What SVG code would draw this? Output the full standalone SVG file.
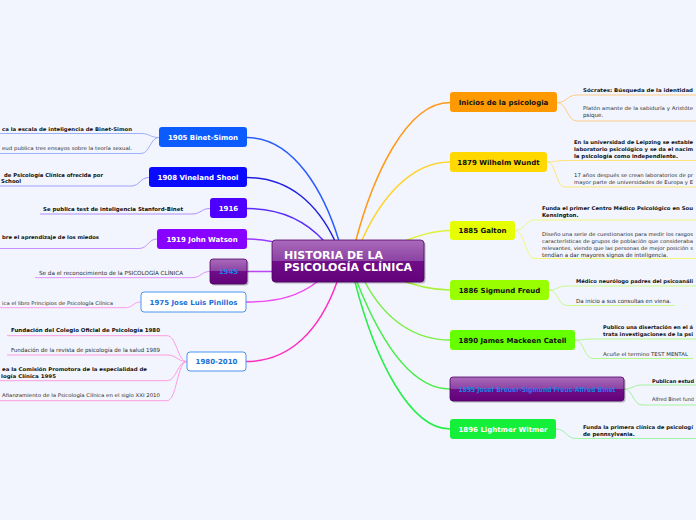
<svg xmlns="http://www.w3.org/2000/svg" width="696" height="520" viewBox="0 0 696 520">
<defs>
<linearGradient id="gloss" x1="0" y1="0" x2="0" y2="1">
<stop offset="0" stop-color="#a96bba"/>
<stop offset="0.5" stop-color="#8c42a3"/>
<stop offset="0.5" stop-color="#700e88"/>
<stop offset="1" stop-color="#62027a"/>
</linearGradient>
</defs>
<style>
.bg{fill:#f2f5fd}
.nt{font-family:"DejaVu Sans",Verdana,sans-serif;font-size:7px;font-weight:bold;text-anchor:middle}
.lt{font-family:"DejaVu Sans",Verdana,sans-serif;font-size:5.6px;fill:#2a2a2a}
.b{font-weight:bold;fill:#111;font-size:5.4px}
.s{font-size:5px}
.e{text-anchor:end}
.c{fill:none;stroke-width:1.5;stroke-linecap:round}
.u{fill:none;stroke-width:1}
.glossy{fill:url(#gloss);stroke:#520068;stroke-width:0.8}
.sh{fill:#000;opacity:0.25}
</style>
<rect class="bg" x="0" y="0" width="696" height="520"/>

<g id="connectors">
<path class="c" stroke="#2a5cff" d="M339,241 C325,195 295,137.5 247,137.5"/>
<path class="c" stroke="#1f1fe0" d="M335,241 C318,205 290,177.5 247,177.5"/>
<path class="c" stroke="#5a2cff" d="M324,241 C305,220 280,208.5 247,208.5"/>
<path class="c" stroke="#9a38ff" d="M290,246 C270,240 260,239 247,239"/>
<path class="c" stroke="#b845f0" d="M280,271.5 L247,271.5"/>
<path class="c" stroke="#f048f0" d="M317,282 C300,295 280,302 246,302"/>
<path class="c" stroke="#ff2ec0" d="M337,282 C320,330 290,361.5 246,361.5"/>
<path class="c" stroke="#ff9a1a" d="M356,240 C372,180 405,102.5 450,102.5"/>
<path class="c" stroke="#ffd22a" d="M362,240 C380,200 410,162 450,162"/>
<path class="c" stroke="#def23a" d="M395,245 C420,234 435,230.5 450,230.5"/>
<path class="c" stroke="#aaf23a" d="M395,278 C420,288 435,290 450,290"/>
<path class="c" stroke="#78ee44" d="M365,282 C385,320 415,340 450,340"/>
<path class="c" stroke="#48ee48" d="M357,282 C380,340 410,389 450,389"/>
<path class="c" stroke="#26ee48" d="M355,282 C375,360 410,429 450,429"/>

<path class="u" stroke="#ffcc88" d="M557,102.5 C567,102.5 567,95 577,95 H696"/>
<path class="u" stroke="#ffcc88" d="M557,102.5 C567,102.5 567,121 577,121 H696"/>
<path class="u" stroke="#ffe47a" d="M547,162 C556,162 556,160.5 565,160.5 H696"/>
<path class="u" stroke="#ffe47a" d="M547,162 C556,162 556,187 565,187 H696"/>
<path class="u" stroke="#eef880" d="M515,230.5 C525,230.5 525,220 535,220 H696"/>
<path class="u" stroke="#eef880" d="M515,230.5 C525,230.5 525,258.5 535,258.5 H696"/>
<path class="u" stroke="#ccf890" d="M549,290 C558,290 558,286 567,286 H696"/>
<path class="u" stroke="#ccf890" d="M549,290 C558,290 558,305.5 567,305.5 H675"/>
<path class="u" stroke="#b4f890" d="M575,340 C584,340 584,339 593,339 H696"/>
<path class="u" stroke="#b4f890" d="M575,340 C584,340 584,358.5 593,358.5 H693"/>
<path class="u" stroke="#a8f0a0" d="M624,389 C633,389 633,385 642,385 H696"/>
<path class="u" stroke="#a8f0a0" d="M624,389 C633,389 633,405 642,405 H696"/>
<path class="u" stroke="#a0f4ac" d="M556,429 C566,429 566,438.5 576,438.5 H696"/>

<path class="u" stroke="#9cb2ff" d="M159,137.5 C150,137.5 150,133.5 141,133.5 H0"/>
<path class="u" stroke="#9cb2ff" d="M159,137.5 C150,137.5 150,153.5 141,153.5 H0"/>
<path class="u" stroke="#a0a0ff" d="M149,177.5 C140,177.5 140,186 131,186 H0"/>
<path class="u" stroke="#b090ff" d="M210,208.5 C201,208.5 201,214 192,214 H40"/>
<path class="u" stroke="#c890ff" d="M157,239 C148,239 148,248.5 139,248.5 H0"/>
<path class="u" stroke="#e090ff" d="M210,271.5 C201,271.5 201,277.7 192,277.7 H35"/>
<path class="u" stroke="#ff9cf0" d="M141,302 C133,302 133,307.7 125,307.7 H0"/>
<path class="u" stroke="#ff9ce0" d="M187,361.5 C177,361.5 177,335.7 167,335.7 H7"/>
<path class="u" stroke="#ff9ce0" d="M187,361.5 C177,361.5 177,355 167,355 H7"/>
<path class="u" stroke="#ff9ce0" d="M187,361.5 C177,361.5 177,380.7 167,380.7 H0"/>
<path class="u" stroke="#ff9ce0" d="M187,361.5 C177,361.5 177,400.7 167,400.7 H0"/>
</g>

<g id="central">
<rect class="sh" x="273.5" y="241.5" width="152" height="42" rx="3.5"/>
<rect class="glossy" x="272" y="240" width="152" height="42" rx="3.5"/>
<text font-family="'DejaVu Sans',Verdana,sans-serif" font-size="11" font-weight="bold" fill="#ffffff"><tspan x="284" y="259.3">HISTORIA DE LA</tspan><tspan x="284" y="271.3">PSICOLOGÍA CLÍNICA</tspan></text>
</g>

<g id="inicios">
<rect x="450" y="92" width="107" height="20" rx="3" fill="#ff9900"/>
<text class="nt" x="503.5" y="104.5" fill="#111">Inicios de la psicologia</text>
<text class="lt b s" x="583" y="91.5" textLength="110" lengthAdjust="spacingAndGlyphs">Sócrates: Búsqueda de la identidad</text>
<text class="lt s" x="583" y="110" textLength="110" lengthAdjust="spacingAndGlyphs">Platón amante de la sabiduría  y Aristóte</text>
<text class="lt" x="583" y="117.3">psique.</text>
</g>

<g id="wundt">
<rect x="450" y="152" width="97" height="20" rx="3" fill="#ffd800"/>
<text class="nt" x="498.5" y="164.5" fill="#111">1879 Wilhelm Wundt</text>
<text class="lt b s" x="574" y="144" textLength="119" lengthAdjust="spacingAndGlyphs">En la universidad de Leipzing se estable</text>
<text class="lt b s" x="574" y="150.8" textLength="119" lengthAdjust="spacingAndGlyphs">laboratorio psicológico y se da el nacim</text>
<text class="lt b" x="574" y="157.6" textLength="104" lengthAdjust="spacingAndGlyphs">la psicología como independiente.</text>
<text class="lt s" x="574" y="176.7" textLength="119" lengthAdjust="spacingAndGlyphs">17 años después se crean laboratorios de pr</text>
<text class="lt s" x="574" y="184" textLength="119" lengthAdjust="spacingAndGlyphs">mayor parte de universidades de Europa y E</text>
</g>

<g id="galton">
<rect x="450" y="221" width="65" height="19" rx="3" fill="#e5ff00"/>
<text class="nt" x="482.5" y="233" fill="#111">1885 Galton</text>
<text class="lt b s" x="542" y="210" textLength="151" lengthAdjust="spacingAndGlyphs">Funda el primer Centro Médico Psicológico en Sou</text>
<text class="lt b" x="542" y="216.7">Kensington.</text>
<text class="lt s" x="542" y="235.5" textLength="151" lengthAdjust="spacingAndGlyphs">Diseño una serie de cuestionarios para medir los rasgos</text>
<text class="lt s" x="542" y="242.8" textLength="151" lengthAdjust="spacingAndGlyphs">características de grupos de población que consideraba</text>
<text class="lt s" x="542" y="250.1" textLength="151" lengthAdjust="spacingAndGlyphs">relevantes, viendo que las personas de mejor posición s</text>
<text class="lt" x="542" y="257.3" textLength="126" lengthAdjust="spacingAndGlyphs">tendían a dar mayores signos de inteligencia.</text>
</g>

<g id="freud">
<rect x="450" y="280" width="99" height="20" rx="3" fill="#99ff00"/>
<text class="nt" x="499.5" y="292.5" fill="#111">1886 Sigmund Freud</text>
<text class="lt b s" x="576" y="282.7" textLength="117" lengthAdjust="spacingAndGlyphs">Médico neurólogo padres del psicoanáli</text>
<text class="lt" x="576" y="302.7" textLength="95" lengthAdjust="spacingAndGlyphs">Da inicio a sus consultas en viena.</text>
</g>

<g id="catell">
<rect x="450" y="330" width="125" height="20" rx="3" fill="#66ff00"/>
<text class="nt" x="512.5" y="342.5" fill="#111">1890 James Mackeen Catell</text>
<text class="lt b s" x="603" y="329" textLength="90" lengthAdjust="spacingAndGlyphs">Publico una disertación en el á</text>
<text class="lt b s" x="603" y="336" textLength="90" lengthAdjust="spacingAndGlyphs">trata investigaciones de la psi</text>
<text class="lt s" x="603" y="355.7" textLength="85" lengthAdjust="spacingAndGlyphs">Acuñe el termino TEST MENTAL</text>
</g>

<g id="breuer">
<rect class="sh" x="451.5" y="378.5" width="174" height="24" rx="3"/>
<rect class="glossy" x="450" y="377" width="174" height="24" rx="3"/>
<text class="nt" x="537" y="391.5" fill="#1e7fe6" font-size="6.5" textLength="157" lengthAdjust="spacingAndGlyphs">1895 Josef Breuer-Sigmund Freus-Alfred Binet</text>
<text class="lt b s" x="652" y="382.5" textLength="42" lengthAdjust="spacingAndGlyphs">Publican estud</text>
<text class="lt s" x="652" y="400.7" textLength="42" lengthAdjust="spacingAndGlyphs">Alfred Binet fund</text>
</g>

<g id="witmer">
<rect x="450" y="419" width="106" height="20" rx="3" fill="#14ef3a"/>
<text class="nt" x="503" y="431.5" fill="#ffffff">1896 Lightmer Witmer</text>
<text class="lt b s" x="583" y="428.5" textLength="110" lengthAdjust="spacingAndGlyphs">Funda la primera clínica de psicologí</text>
<text class="lt b" x="583" y="435.6">de pennsylvania.</text>
</g>

<g id="binet">
<rect x="159" y="127" width="88" height="20" rx="3" fill="#0b5bff"/>
<text class="nt" x="203" y="139.5" fill="#ffffff">1905 Binet-Simon</text>
<text class="lt b e s" x="132" y="131" textLength="130" lengthAdjust="spacingAndGlyphs">ca la escala de inteligencia de Binet-Simon</text>
<text class="lt e s" x="132" y="150" textLength="130" lengthAdjust="spacingAndGlyphs">eud publica tres ensayos sobre la teoría sexual.</text>
</g>

<g id="vineland">
<rect x="149" y="167" width="98" height="20" rx="3" fill="#0a0aff"/>
<text class="nt" x="198" y="179.5" fill="#ffffff">1908 Vineland Shool</text>
<text class="lt b" x="4" y="176.5" textLength="99" lengthAdjust="spacingAndGlyphs">de Psicología Clínica ofrecida por</text>
<text class="lt b" x="1" y="183.2">School</text>
</g>

<g id="n1916">
<rect x="210" y="198" width="37" height="20" rx="3" fill="#4d00ff"/>
<text class="nt" x="228.5" y="210.5" fill="#ffffff">1916</text>
<text class="lt b" x="43" y="210.7" textLength="140" lengthAdjust="spacingAndGlyphs">Se publica test de inteligencia Stanford-Binet</text>
</g>

<g id="watson">
<rect x="157" y="229" width="90" height="20" rx="3" fill="#8800ff"/>
<text class="nt" x="202" y="241.5" fill="#ffffff">1919 John Watson</text>
<text class="lt b e s" x="99" y="239" textLength="97" lengthAdjust="spacingAndGlyphs">bre el aprendizaje de los miedos</text>
</g>

<g id="n1945">
<rect class="sh" x="211.5" y="260.5" width="37" height="25" rx="3"/>
<rect class="glossy" x="210" y="259" width="37" height="25" rx="3"/>
<text class="nt" x="228.5" y="274" fill="#1e7fe6">1945</text>
<text class="lt" x="39" y="275" textLength="144" lengthAdjust="spacingAndGlyphs">Se da el reconocimiento de la PSICOLOGÍA CLÍNICA</text>
</g>

<g id="pinillos">
<rect x="141" y="292" width="105" height="20" rx="3" fill="#ffffff" stroke="#4a95f0" stroke-width="1"/>
<text class="nt" x="193.5" y="304.5" fill="#1a6fd6">1975 Jose Luis Pinillos</text>
<text class="lt e s" x="113" y="305" textLength="111" lengthAdjust="spacingAndGlyphs">ica el libro Principios de Psicología Clínica</text>
</g>

<g id="n1980">
<rect x="187" y="352" width="59" height="19" rx="3" fill="#ffffff" stroke="#4a95f0" stroke-width="1"/>
<text class="nt" x="216.5" y="364" fill="#1a6fd6">1980-2010</text>
<text class="lt b" x="11" y="332.3" textLength="149" lengthAdjust="spacingAndGlyphs">Fundación del Colegio Oficial de Psicología 1980</text>
<text class="lt" x="11" y="351.6" textLength="149" lengthAdjust="spacingAndGlyphs">Fundación de la revista de psicología de la salud 1989</text>
<text class="lt b e s" x="147" y="370.6" textLength="145" lengthAdjust="spacingAndGlyphs">ea la Comisión Promotora de la especialidad de</text>
<text class="lt b s" x="1" y="377.6" textLength="55" lengthAdjust="spacingAndGlyphs">logía Clínica 1995</text>
<text class="lt e s" x="160" y="397" textLength="158" lengthAdjust="spacingAndGlyphs">Afianzamiento de la Psicología Clínica en el siglo XXI 2010</text>
</g>
</svg>
